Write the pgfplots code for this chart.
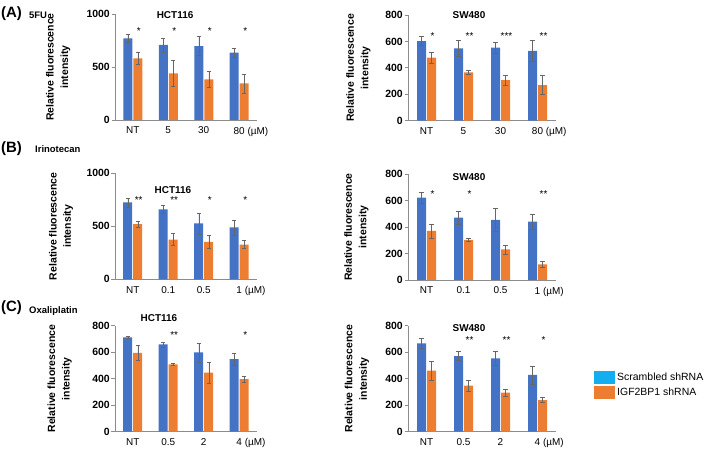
\documentclass[border=0pt]{standalone}
\usepackage{fontspec}
\setmainfont{Liberation Sans}
\usepackage{pgfplots}
\pgfplotsset{compat=1.18}
\definecolor{sblue}{HTML}{4472C4}
\definecolor{sorange}{HTML}{ED7D31}
\definecolor{lcyan}{HTML}{12AEF0}
\definecolor{axgray}{HTML}{8C8C8C}
\pgfplotsset{
  panel/.style={
    scale only axis, anchor=south west, clip=false,
    ybar=1bp, bar width=9bp,
    xmin=-0.5, xmax=3.5, ymin=0, enlargelimits=false,
    xtick={0,1,2,3},
    axis x line*=bottom, axis y line*=left,
    axis line style={-, draw=axgray, line width=0.7pt},
    xtick style={draw=none}, ytick style={draw=axgray, line width=0.7pt},
    tick align=outside, major tick length=3.5bp,
    yticklabel style={font=\bfseries\fontsize{10.5}{12}\selectfont, inner sep=1.5bp},
    xticklabel style={font=\fontsize{10}{11}\selectfont},
    /pgf/number format/assume math mode=true,
    /pgf/number format/1000 sep={},
    error bars/y dir=both, error bars/y explicit,
    error bars/error bar style={draw=black!60, line width=0.5pt},
    error bars/error mark options={draw=black!60, rotate=90, mark size=2.2bp, line width=0.5pt},
    ylabel={Relative fluorescence\\intensity},
  },
  ylab/.style={every axis y label/.style={at={(axis description cs:#1,0.5)}, rotate=90, anchor=center,
    align=center, font=\bfseries\fontsize{10.5}{14.5}\selectfont}},
}
\newcommand\st[3]{\node[font=\fontsize{10}{11}\selectfont, anchor=base, xshift=6bp, yshift=-5.5bp] at (axis cs:#1,#2) {#3};}
\newcommand\ttl[3]{\node[font=\bfseries\fontsize{10}{12}\selectfont] at (axis description cs:#1,#2) {#3};}
\begin{document}
\begin{tikzpicture}
\useasboundingbox (0,0) rectangle (709bp,449bp);
% ---------------- (A) HCT116
\begin{axis}[panel, ylab=-0.40, at={(115bp,329bp)}, width=142bp, height=106bp,
  ymax=1000, ytick={0,500,1000}, xticklabels={NT,5,30,80\rlap{ (µM)}}]
\addplot[fill=sblue, draw=none] coordinates {(0,771) +- (0,38) (1,708) +- (0,66) (2,698) +- (0,90) (3,635) +- (0,40)};
\addplot[fill=sorange, draw=none] coordinates {(0,582) +- (0,60) (1,440) +- (0,120) (2,384) +- (0,79) (3,346) +- (0,90)};
\st{0}{860}{*}\st{1}{860}{*}\st{2}{860}{*}\st{3}{860}{*}
\ttl{0.423}{0.99}{HCT116}
\end{axis}
% ---------------- (A) SW480
\begin{axis}[panel, ylab=-0.335, at={(408bp,328.3bp)}, width=148bp, height=105.7bp,
  ymax=800, ytick={0,200,400,600,800}, xticklabels={NT,5,30,80\rlap{ (µM)}}]
\addplot[fill=sblue, draw=none] coordinates {(0,603) +- (0,35) (1,548) +- (0,63) (2,553) +- (0,42) (3,528) +- (0,80)};
\addplot[fill=sorange, draw=none] coordinates {(0,477) +- (0,42) (1,366) +- (0,13) (2,308) +- (0,39) (3,270) +- (0,71)};
\st{0}{654}{*}\st{1}{654}{**}\st{2}{654}{***}\st{3}{654}{**}
\ttl{0.412}{1.0}{SW480}
\end{axis}
% ---------------- (B) HCT116
\begin{axis}[panel, ylab=-0.38, at={(115bp,169.7bp)}, width=142bp, height=106bp,
  ymax=1000, ytick={0,500,1000}, xticklabels={NT,0.1,0.5,1\rlap{ (µM)}}]
\addplot[fill=sblue, draw=none] coordinates {(0,726) +- (0,43) (1,659) +- (0,36) (2,527) +- (0,100) (3,489) +- (0,71)};
\addplot[fill=sorange, draw=none] coordinates {(0,520) +- (0,27) (1,375) +- (0,58) (2,353) +- (0,60) (3,328) +- (0,36)};
\st{0}{763}{**}\st{1}{763}{**}\st{2}{763}{*}\st{3}{763}{*}
\ttl{0.408}{0.842}{HCT116}
\end{axis}
% ---------------- (B) SW480
\begin{axis}[panel, ylab=-0.348, at={(408bp,169bp)}, width=148bp, height=106bp,
  ymax=800, ytick={0,200,400,600,800}, xticklabels={NT,0.1,0.5,1\rlap{ (µM)}}]
\addplot[fill=sblue, draw=none] coordinates {(0,621) +- (0,44) (1,470) +- (0,47) (2,453) +- (0,88) (3,440) +- (0,58)};
\addplot[fill=sorange, draw=none] coordinates {(0,370) +- (0,54) (1,302) +- (0,13) (2,231) +- (0,35) (3,118) +- (0,21)};
\st{0}{661}{*}\st{1}{661}{*}\st{3}{661}{**}
\ttl{0.412}{0.972}{SW480}
\end{axis}
% ---------------- (C) HCT116
\begin{axis}[panel, ylab=-0.39, at={(115bp,17.3bp)}, width=142bp, height=106bp,
  ymax=800, ytick={0,200,400,600,800}, xticklabels={NT,0.5,2,4\rlap{ (µM)}}]
\addplot[fill=sblue, draw=none] coordinates {(0,712) +- (0,8) (1,659) +- (0,19) (2,599) +- (0,72) (3,548) +- (0,45)};
\addplot[fill=sorange, draw=none] coordinates {(0,595) +- (0,57) (1,508) +- (0,5) (2,445) +- (0,77) (3,397) +- (0,21)};
\st{1}{747}{**}\st{3}{747}{*}
\ttl{0.31}{1.07}{HCT116}
\end{axis}
% ---------------- (C) SW480
\begin{axis}[panel, ylab=-0.345, at={(408bp,17.3bp)}, width=148bp, height=106bp,
  ymax=800, ytick={0,200,400,600,800}, xticklabels={NT,0.5,2,4\rlap{ (µM)}},
  legend style={at={(axis description cs:1.257,0.575)}, anchor=north west, draw=none, fill=none,
    font=\fontsize{10.5}{12}\selectfont, row sep=2bp, inner sep=0pt, cells={anchor=west}}]
\addplot[fill=sblue, draw=none, legend image code/.code={\fill[lcyan] (0bp,-6.5bp) rectangle (21bp,6.5bp);}]
  coordinates {(0,667) +- (0,38) (1,571) +- (0,34) (2,553) +- (0,54) (3,428) +- (0,68)};
\addlegendentry{Scrambled shRNA}
\addplot[fill=sorange, draw=none, legend image code/.code={\fill[sorange] (0bp,-6.5bp) rectangle (21bp,6.5bp);}]
  coordinates {(0,460) +- (0,74) (1,347) +- (0,42) (2,294) +- (0,28) (3,239) +- (0,18)};
\addlegendentry{IGF2BP1 shRNA}
\st{1}{709}{**}\st{2}{709}{**}\st{3}{709}{*}
\ttl{0.412}{0.978}{SW480}
\end{axis}
% ---------------- panel labels
\node[anchor=west, font=\bfseries\fontsize{15}{17}\selectfont, inner sep=0pt] at (1bp,435.3bp) {(A)};
\node[anchor=base west, font=\bfseries\fontsize{9.5}{11}\selectfont, inner sep=0pt] at (29bp,430.7bp) {5FU};
\node[anchor=west, font=\bfseries\fontsize{15}{17}\selectfont, inner sep=0pt] at (1bp,300.7bp) {(B)};
\node[anchor=base west, font=\bfseries\fontsize{9.5}{11}\selectfont, inner sep=0pt] at (35bp,296.7bp) {Irinotecan};
\node[anchor=west, font=\bfseries\fontsize{15}{17}\selectfont, inner sep=0pt] at (1bp,141.2bp) {(C)};
\node[anchor=base west, font=\bfseries\fontsize{9.5}{11}\selectfont, inner sep=0pt] at (29bp,135.7bp) {Oxaliplatin};
\end{tikzpicture}
\end{document}
